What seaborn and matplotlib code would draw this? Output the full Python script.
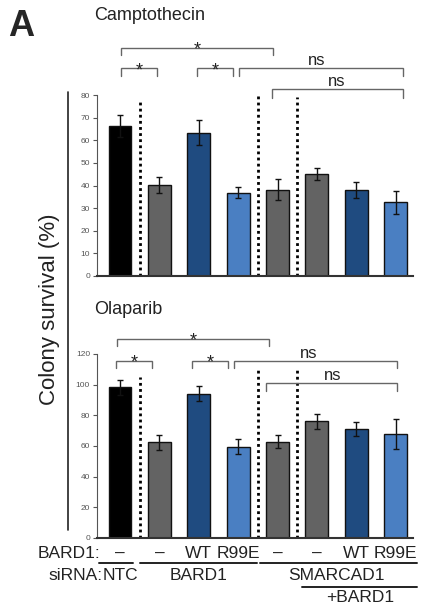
import numpy as np
import pandas as pd
import seaborn as sns
import matplotlib.pyplot as plt
from matplotlib.lines import Line2D

# colony survival data
conditions = ['NTC', 'BARD1 -', 'BARD1 WT', 'BARD1 R99E',
              'SMARCAD1 -', 'SMARCAD1+BARD1 -', 'SMARCAD1+BARD1 WT', 'SMARCAD1+BARD1 R99E']
bar_colors = ['#000000', '#636363', '#1f4b80', '#4a7fc2',
              '#636363', '#636363', '#1f4b80', '#4a7fc2']

cpt_mean = [66.4, 40.4, 63.4, 36.8, 38.2, 45.0, 37.9, 32.5]
cpt_err = [4.8, 3.5, 5.6, 2.4, 4.8, 2.7, 3.6, 5.2]
ola_mean = [98.3, 62.5, 94.2, 59.6, 62.8, 76.2, 71.0, 68.0]
ola_err = [5.0, 5.0, 4.8, 5.0, 4.3, 4.8, 4.5, 9.8]

bard1_row = ['\u2013', '\u2013', 'WT', 'R99E', '\u2013', '\u2013', 'WT', 'R99E']

# brackets: (x1, x2, y, drop, label, label x)
cpt_brackets = [
    (0.03, 0.94, 92.0, 3.5, '*', 0.5),
    (0.03, 3.88, 100.9, 3.1, '*', 1.95),
    (1.95, 2.87, 92.0, 3.5, '*', 2.42),
    (3.02, 7.18, 92.0, 3.5, 'ns', 5.0),
    (3.86, 7.18, 82.7, 3.9, 'ns', 5.5),
]
ola_brackets = [
    (-0.08, 3.78, 129.8, 4.4, '*', 1.85),
    (-0.10, 0.81, 115.7, 4.7, '*', 0.36),
    (1.83, 2.74, 115.7, 4.7, '*', 2.3),
    (2.89, 7.03, 115.7, 4.7, 'ns', 4.8),
    (3.70, 7.03, 101.4, 5.4, 'ns', 5.4),
]
cpt_dividers = [(0.5, 77), (3.5, 80), (4.5, 79)]
ola_dividers = [(0.5, 105), (3.5, 110), (4.5, 110)]

sns.set_style('white')
plt.rcParams['font.family'] = ['Liberation Sans', 'DejaVu Sans']

W, H = 421, 607
fig = plt.figure(figsize=(W / 100, H / 100), dpi=100)


def px_axes(left, top, right, bottom):
    return fig.add_axes([left / W, 1 - bottom / H, (right - left) / W, (bottom - top) / H])


def panel(ax, means, errs, ymax, step, brackets, dividers):
    df = pd.DataFrame({'cond': conditions, 'val': means})
    sns.barplot(data=df, x='cond', y='val', hue='cond', order=conditions,
                palette=bar_colors, saturation=1, legend=False, errorbar=None, width=0.58,
                edgecolor='#111111', linewidth=1.0, ax=ax)
    ax.errorbar(range(len(means)), means, yerr=errs, fmt='none', ecolor='#111111',
                elinewidth=1.0, capsize=2.5, capthick=1.0)
    ax.set_xlim(-0.584, 7.44)
    ax.set_ylim(0, ymax)
    ax.set_yticks(np.arange(0, ymax + 1, step))
    ax.tick_params(axis='y', labelsize=6, labelcolor='#555555', length=3,
                   width=0.8, color='#555555', left=True, pad=2)
    ax.set_xticks([])
    ax.set_xlabel('')
    ax.set_ylabel('')
    for s in ['top', 'right']:
        ax.spines[s].set_visible(False)
    ax.spines['left'].set_color('#555555')
    ax.spines['left'].set_linewidth(0.8)
    ax.spines['bottom'].set_color('#333333')
    ax.spines['bottom'].set_linewidth(1.5)
    for x, top in dividers:
        ax.plot([x, x], [0, top], color='black', lw=2.0, ls=(0, (1, 1.2)), clip_on=False)
    for x1, x2, y, d, lab, lx in brackets:
        ax.plot([x1, x1, x2, x2], [y - d, y, y, y - d], color='#666666', lw=1.0,
                clip_on=False, solid_joinstyle='miter')
        if lab == 'ns':
            ax.text(lx, y + 0.35 * d, lab, ha='center', va='baseline', fontsize=12,
                    color='#222222', clip_on=False)
        else:
            ax.text(lx, y - 1.5 * d, lab, ha='center', va='bottom', fontsize=13,
                    color='#222222', clip_on=False)


ax1 = px_axes(97, 95, 413, 276)
panel(ax1, cpt_mean, cpt_err, 80, 10, cpt_brackets, cpt_dividers)
ax2 = px_axes(97, 354, 413, 538)
panel(ax2, ola_mean, ola_err, 120, 20, ola_brackets, ola_dividers)

fig.text(8 / W, 1 - 27 / H, 'A', fontsize=26, fontweight='bold', va='center', ha='left')
fig.text(94 / W, 1 - 16 / H, 'Camptothecin', fontsize=13, va='center', ha='left', color='#222222')
fig.text(94 / W, 1 - 310 / H, 'Olaparib', fontsize=13, va='center', ha='left', color='#222222')
fig.text(50 / W, 1 - 309 / H, 'Colony survival (%)', fontsize=16, rotation=90,
         va='center', ha='center', color='#222222')
fig.add_artist(Line2D([68 / W, 68 / W], [1 - 92 / H, 1 - 530 / H], color='#222222', lw=1.2))

# condition labels under the lower panel
tr = ax2.get_xaxis_transform()


def row_y(py):
    # convert figure pixel y to ax2 axes fraction
    return (538 - py) / (538 - 354)


fs = 12.5
ax2.text(-0.5, row_y(553), 'BARD1:', transform=tr, ha='right', va='center', fontsize=fs,
         color='#222222', clip_on=False)
for i, lab in enumerate(bard1_row):
    ax2.text(i, row_y(553), lab, transform=tr, ha='center', va='center', fontsize=fs,
             color='#222222', clip_on=False)
for x1, x2, py in [(-0.53, 0.33, 563), (0.51, 3.48, 563), (3.55, 7.54, 563), (4.62, 7.54, 587)]:
    ax2.plot([x1, x2], [row_y(py), row_y(py)], transform=tr, color='#222222', lw=1.4,
             clip_on=False)
ax2.text(-0.45, row_y(575), 'siRNA:', transform=tr, ha='right', va='center', fontsize=fs,
         color='#222222', clip_on=False)
ax2.text(0.0, row_y(575), 'NTC', transform=tr, ha='center', va='center', fontsize=fs,
         color='#222222', clip_on=False)
ax2.text(2.0, row_y(575), 'BARD1', transform=tr, ha='center', va='center', fontsize=fs,
         color='#222222', clip_on=False)
ax2.text(5.5, row_y(575), 'SMARCAD1', transform=tr, ha='center', va='center', fontsize=fs,
         color='#222222', clip_on=False)
ax2.text(6.1, row_y(598), '+BARD1', transform=tr, ha='center', va='center', fontsize=fs,
         color='#222222', clip_on=False)

fig.savefig('out.png', dpi=100)
